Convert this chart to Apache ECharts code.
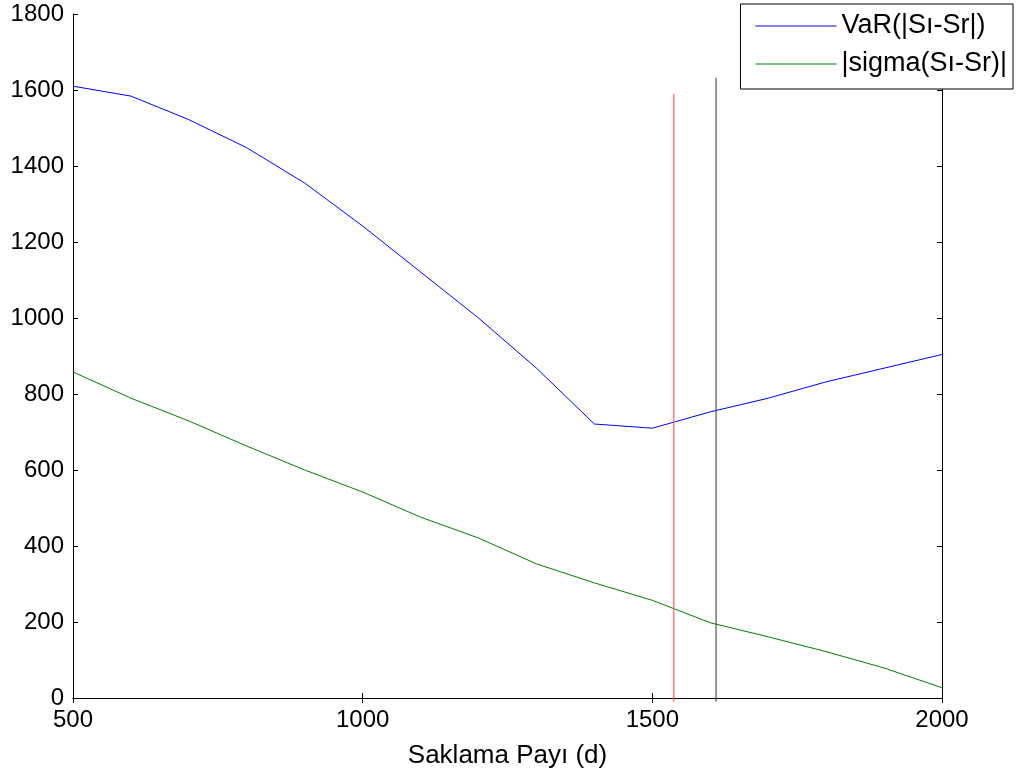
<!DOCTYPE html>
<html>
<head>
<meta charset="utf-8">
<script src="https://cdn.jsdelivr.net/npm/echarts@6/dist/echarts.min.js"></script>
<style>
  html, body { margin: 0; padding: 0; background: #fff; }
  #chart { width: 1019px; height: 780px; }
</style>
</head>
<body>
<div id="chart"></div>
<script>
// saklama payı (d)
const days = [500, 600, 700, 800, 900, 1000, 1100, 1200, 1300, 1400, 1500, 1600, 1700, 1800, 1900, 2000];
// VaR(|Sı-Sr|)
const varValues = [1610, 1584, 1522, 1448, 1355, 1242, 1121, 1000, 868, 721, 710, 753, 789, 832, 868, 904];
// |sigma(Sı-Sr)|
const sigmaValues = [858, 789, 729, 663, 600, 542, 476, 421, 353, 303, 257, 198, 161, 122, 79, 27];
// dikey çizgiler: [x, alt, üst]
const redMarker = [1537, -10, 1589];
const blackMarker = [1610, -10, 1632];

const FONT = 'Liberation Sans, Arial, sans-serif';
const chart = echarts.init(document.getElementById('chart'));

const pair = (xs, ys) => xs.map((x, i) => [x, ys[i]]);
const vline = m => [[m[0], m[1]], [m[0], m[2]]];
const plain = v => String(v);

const axisLine = { show: true, lineStyle: { color: '#000', width: 1 } };
const axisTick = { show: true, inside: true, length: 5, lineStyle: { color: '#000' } };

chart.setOption({
  backgroundColor: '#fff',
  animation: false,
  grid: { left: 73, right: 77, top: 14, bottom: 82 },
  legend: {
    data: [
      { name: 'VaR(|Sı-Sr|)', icon: 'rect' },
      { name: '|sigma(Sı-Sr)|', icon: 'rect' }
    ],
    orient: 'vertical',
    right: 6,
    top: 4,
    backgroundColor: '#fff',
    borderColor: '#000',
    borderWidth: 1,
    borderRadius: 0,
    padding: [8, 6, 11, 15],
    itemWidth: 81,
    itemHeight: 1,
    itemGap: 10,
    itemTextGap: 7,
    textStyle: { fontFamily: FONT, fontSize: 27, color: '#000', lineHeight: 28 },
    z: 10
  },
  xAxis: [
    {
      type: 'value', min: 500, max: 2000, interval: 500, position: 'bottom',
      name: 'Saklama Payı (d)', nameLocation: 'middle', nameGap: 45,
      nameTextStyle: { fontFamily: FONT, fontSize: 26, color: '#000' },
      axisLine, axisTick, splitLine: { show: false },
      axisLabel: { fontFamily: FONT, fontSize: 24, color: '#000', margin: 10, formatter: plain }
    },
    {
      type: 'value', min: 500, max: 2000, interval: 500, position: 'top',
      axisLine, axisTick, splitLine: { show: false }, axisLabel: { show: false }
    }
  ],
  yAxis: [
    {
      type: 'value', min: 0, max: 1800, interval: 200, position: 'left',
      axisLine, axisTick, splitLine: { show: false },
      axisLabel: { fontFamily: FONT, fontSize: 24, color: '#000', margin: 9, formatter: plain }
    },
    {
      type: 'value', min: 0, max: 1800, interval: 200, position: 'right',
      axisLine, axisTick, splitLine: { show: false }, axisLabel: { show: false }
    }
  ],
  series: [
    {
      name: 'VaR(|Sı-Sr|)', type: 'line', symbol: 'none',
      data: pair(days, varValues),
      lineStyle: { color: '#0000ff', width: 1 }, itemStyle: { color: '#0000ff' }
    },
    {
      name: '|sigma(Sı-Sr)|', type: 'line', symbol: 'none',
      data: pair(days, sigmaValues),
      lineStyle: { color: '#008000', width: 1 }, itemStyle: { color: '#008000' }
    },
    {
      name: 'red', type: 'line', symbol: 'none', clip: false,
      data: vline(redMarker),
      lineStyle: { color: '#ff5a5a', width: 1.2 }
    },
    {
      name: 'black', type: 'line', symbol: 'none', clip: false,
      data: vline(blackMarker),
      lineStyle: { color: '#555555', width: 1.2 }
    }
  ]
});
</script>
</body>
</html>
